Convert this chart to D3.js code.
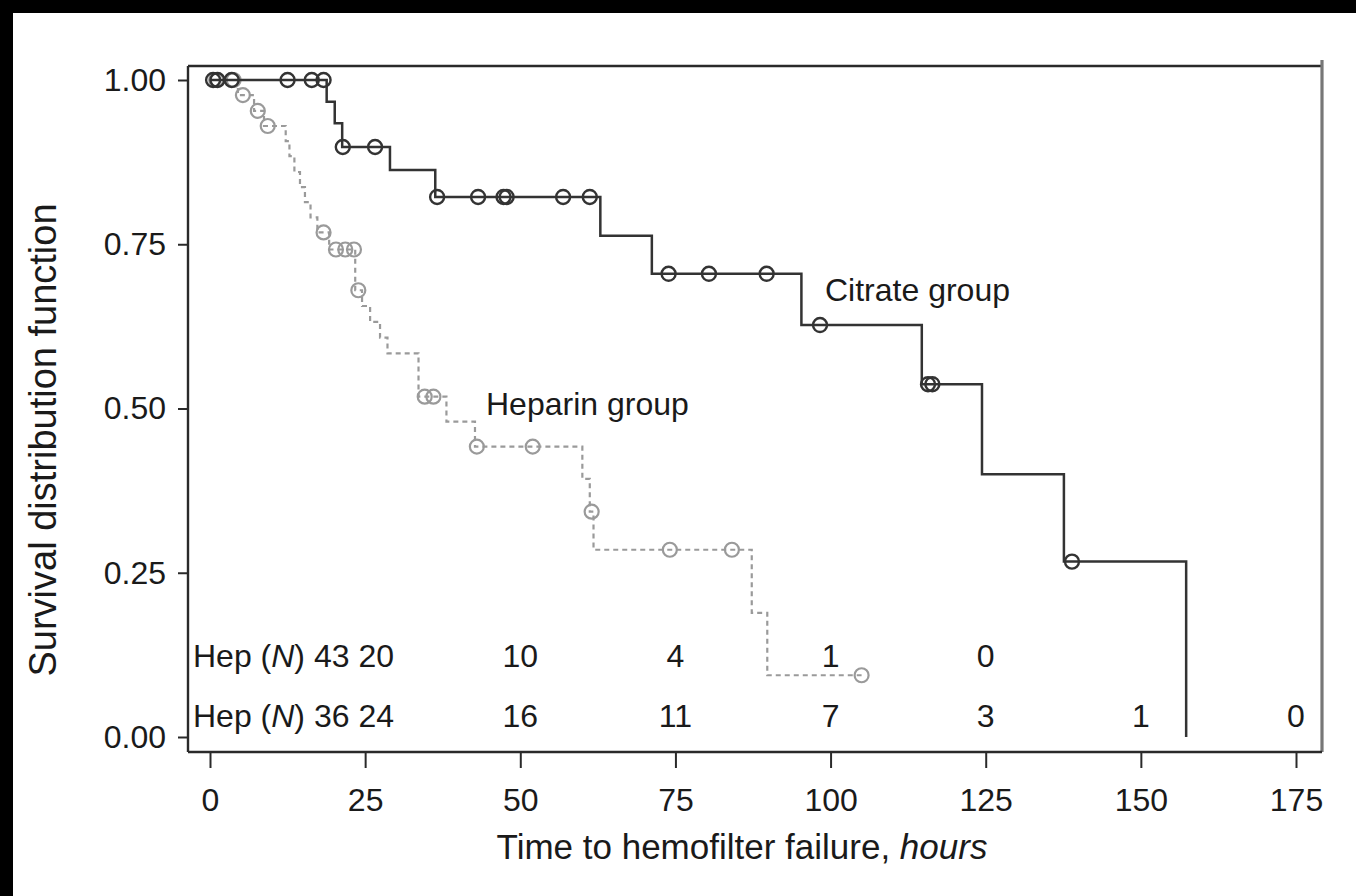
<!DOCTYPE html>
<html>
<head>
<meta charset="utf-8">
<script src="https://cdn.jsdelivr.net/npm/d3@7"></script>
<style>
  html, body { margin: 0; padding: 0; background: #000; }
  svg { display: block; }
  text { font-family: "Liberation Sans", Arial, sans-serif; fill: #1a1a1a; }
</style>
</head>
<body>
<script>
// ---- data ----
const citTimes = [0, 18.8, 20.1, 21.3, 29.0, 36.3, 62.9, 71.2, 95.3, 114.7, 124.4, 137.6, 157.3];
const citSurv  = [1.000, 0.967, 0.934, 0.898, 0.863, 0.822, 0.763, 0.705, 0.627, 0.537, 0.400, 0.267, 0.000];
const citCensor = [0.5, 1.2, 3.5, 12.5, 16.4, 18.3, 21.4, 26.6, 36.6, 43.2, 47.3, 47.8, 56.9, 61.2, 73.9, 80.4, 89.7, 98.3, 115.7, 116.4, 138.9];

const hepTimes = [0, 4.5, 7.1, 8.7, 12.2, 12.8, 13.6, 14.5, 15.3, 16.2, 17.3, 19.2, 23.4, 24.5, 25.8, 27.4, 28.6, 33.6, 38.1, 42.7, 60.0, 61.2, 61.8, 87.3, 89.8, 105.0];
const hepSurv  = [1.000, 0.977, 0.953, 0.930, 0.907, 0.884, 0.860, 0.837, 0.814, 0.791, 0.768, 0.742, 0.680, 0.656, 0.632, 0.608, 0.584, 0.518, 0.480, 0.442, 0.393, 0.343, 0.285, 0.189, 0.094, 0.094];
const hepCensor = [1.0, 3.8, 5.3, 7.7, 9.3, 18.3, 20.3, 21.8, 23.2, 23.9, 34.6, 36.0, 43.0, 52.0, 61.5, 74.1, 84.1, 105.0];

const xTicks = [0, 25, 50, 75, 100, 125, 150, 175];
const yTicks = [0, 0.25, 0.5, 0.75, 1.0];
const riskTimes = [0, 25, 50, 75, 100, 125, 150, 175];
const hepRisk = [43, 20, 10, 4, 1, 0];
const citRisk = [36, 24, 16, 11, 7, 3, 1, 0];
const riskLabel = "Hep";
const groupLabels = ["Citrate group", "Heparin group"];
const xTitle = "Time to hemofilter failure, ";
const xTitleUnit = "hours";
const yTitle = "Survival distribution function";

// ---- layout ----
const W = 1356, H = 896;
const frame = {l: 188, r: 1322, t: 66, b: 752};
const citColor = "#333333", hepColor = "#9a9a9a";

const svg = d3.select("body").append("svg").attr("width", W).attr("height", H);
svg.append("rect").attr("x", 0).attr("y", 0).attr("width", W).attr("height", H).attr("fill", "#000");
svg.append("rect").attr("x", 13).attr("y", 13).attr("width", W - 13).attr("height", H - 13).attr("fill", "#fff");

const x = d3.scaleLinear().domain([0, 175]).range([210, 1296]);
const y = d3.scaleLinear().domain([0, 1]).range([737, 80]);

// frame
svg.append("line").attr("x1", frame.l).attr("x2", frame.r).attr("y1", frame.t).attr("y2", frame.t)
  .attr("stroke", "#2a2a2a").attr("stroke-width", 2.4);
svg.append("line").attr("x1", frame.l).attr("x2", frame.l).attr("y1", frame.t).attr("y2", frame.b)
  .attr("stroke", "#2a2a2a").attr("stroke-width", 2.4);
svg.append("line").attr("x1", frame.r).attr("x2", frame.r).attr("y1", frame.t - 6).attr("y2", frame.b)
  .attr("stroke", "#777").attr("stroke-width", 3.2);

// axes
const xAxis = svg.append("g").attr("transform", `translate(0,${frame.b})`)
  .call(d3.axisBottom(x).tickValues(xTicks).tickSize(16).tickPadding(20).tickFormat(d3.format("d")));
xAxis.select(".domain").attr("d", `M${frame.l},0H${frame.r}`).attr("stroke", "#2a2a2a").attr("stroke-width", 2.4);
xAxis.selectAll(".tick line").attr("stroke", "#2a2a2a").attr("stroke-width", 2);
xAxis.selectAll(".tick text").attr("font-size", 32).attr("fill", "#1a1a1a")
  .attr("font-family", "Liberation Sans, Arial, sans-serif");

const yAxis = svg.append("g").attr("transform", `translate(${frame.l},0)`)
  .call(d3.axisLeft(y).tickValues(yTicks).tickSize(10).tickPadding(12).tickFormat(d3.format(".2f")));
yAxis.select(".domain").remove();
yAxis.selectAll(".tick line").attr("stroke", "#2a2a2a").attr("stroke-width", 2);
yAxis.selectAll(".tick text").attr("font-size", 32).attr("fill", "#1a1a1a")
  .attr("font-family", "Liberation Sans, Arial, sans-serif");

// curves
const line = d3.line().x(d => x(d[0])).y(d => y(d[1])).curve(d3.curveStepAfter);
const citPts = citTimes.map((t, i) => [t, citSurv[i]]);
const hepPts = hepTimes.map((t, i) => [t, hepSurv[i]]);
function survAt(times, surv, t) {
  let v = surv[0];
  for (let i = 0; i < times.length; i++) if (times[i] <= t) v = surv[i];
  return v;
}

svg.append("path").attr("d", line(hepPts)).attr("fill", "none").attr("stroke", hepColor)
  .attr("stroke-width", 2.2).attr("stroke-dasharray", "5,4");
svg.selectAll("circle.hep").data(hepCensor).enter().append("circle").attr("class", "hep")
  .attr("cx", d => x(d)).attr("cy", d => y(survAt(hepTimes, hepSurv, d))).attr("r", 7)
  .attr("fill", "none").attr("stroke", hepColor).attr("stroke-width", 2.2);

svg.append("path").attr("d", line(citPts)).attr("fill", "none").attr("stroke", citColor)
  .attr("stroke-width", 2.5);
svg.selectAll("circle.cit").data(citCensor).enter().append("circle").attr("class", "cit")
  .attr("cx", d => x(d)).attr("cy", d => y(survAt(citTimes, citSurv, d))).attr("r", 7)
  .attr("fill", "none").attr("stroke", citColor).attr("stroke-width", 2.4);

// group labels
svg.append("text").attr("x", 825).attr("y", 301).attr("font-size", 32).text(groupLabels[0]);
svg.append("text").attr("x", 486).attr("y", 415).attr("font-size", 32).text(groupLabels[1]);

// number at risk rows
function riskRow(vals, baseY) {
  const t = svg.append("text").attr("x", 193).attr("y", baseY).attr("font-size", 32);
  t.append("tspan").text(riskLabel + " (");
  t.append("tspan").attr("font-style", "italic").text("N");
  t.append("tspan").text(") " + vals[0] + " " + vals[1]);
  svg.selectAll(null).data(vals.slice(2)).enter().append("text")
    .attr("x", (d, i) => x(riskTimes[i + 2])).attr("y", baseY)
    .attr("text-anchor", "middle").attr("font-size", 32).text(d => d);
}
riskRow(hepRisk, 667);
riskRow(citRisk, 727);

// titles
const xt = svg.append("text").attr("x", 742).attr("y", 859).attr("text-anchor", "middle").attr("font-size", 35);
xt.append("tspan").text(xTitle);
xt.append("tspan").attr("font-style", "italic").text(xTitleUnit);
svg.append("text").attr("transform", "translate(56,440) rotate(-90)").attr("text-anchor", "middle")
  .attr("font-size", 38).text(yTitle);
</script>
</body>
</html>
